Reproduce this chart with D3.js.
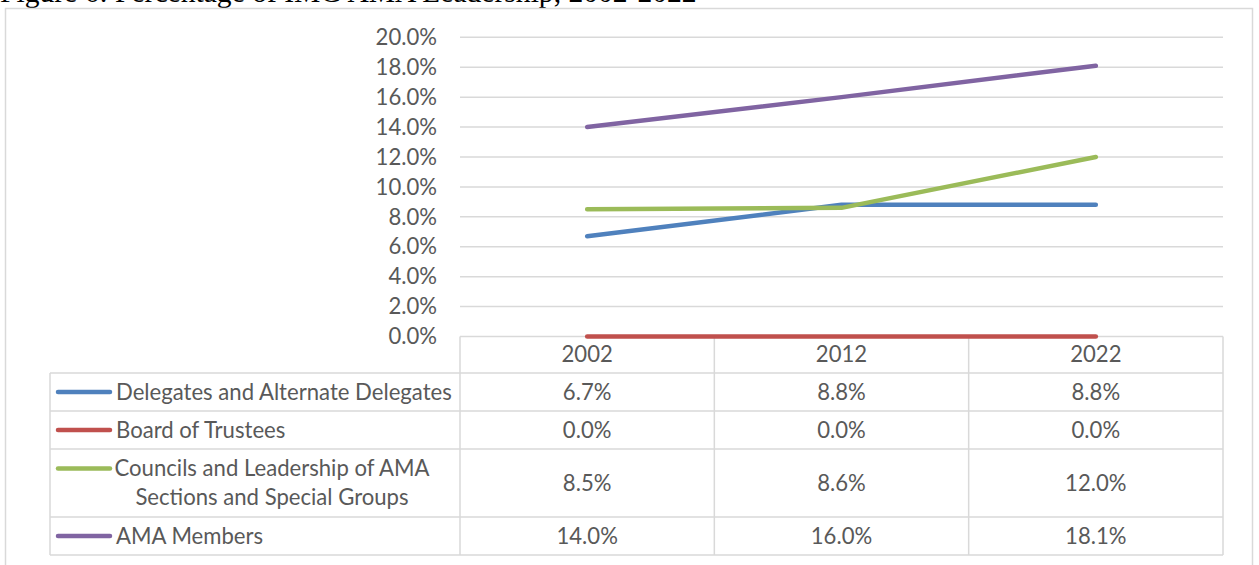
<!DOCTYPE html>
<html>
<head>
<meta charset="utf-8">
<script src="https://cdn.jsdelivr.net/npm/d3@7"></script>
<style>
  body { margin: 0; background: #fff; }
  text { font-family: Lato, "Open Sans", sans-serif; fill: #595959; }
</style>
</head>
<body>
<div id="chart"></div>
<script>
// data
var years = ["2002", "2012", "2022"];
var seriesNames = [
  ["Delegates and Alternate Delegates"],
  ["Board of Trustees"],
  ["Councils and Leadership of AMA", "Sections and Special Groups"],
  ["AMA Members"]
];
var seriesColors = ["#4f81bd", "#c0504d", "#9bbb59", "#8064a2"];
var delegates = [6.7, 8.8, 8.8];
var trustees = [0.0, 0.0, 0.0];
var councils = [8.5, 8.6, 12.0];
var members = [14.0, 16.0, 18.1];
var yTicks = [0, 2, 4, 6, 8, 10, 12, 14, 16, 18, 20];

var allSeries = [delegates, trustees, councils, members];

var W = 1259, H = 565;
var grid = "#d9d9d9";

var svg = d3.select("#chart").append("svg")
  .attr("width", W).attr("height", H);

// title, cut off at the top like the scan
var title = svg.append("text")
  .attr("x", 0).attr("y", 2)
  .style("font-family", "'Liberation Serif', 'Times New Roman', serif")
  .style("font-size", "20px")
  .style("fill", "#000")
  .text("Figure 6: Percentage of IMG AMA Leadership, 2002-2022");
var tl = title.node().getComputedTextLength();
title.style("font-size", (20 * 697 / tl) + "px");

// pick a label size so the widest legend entry fills its cell like the original
var probe = svg.append("text").style("font-size", "20px").text(seriesNames[0][0]);
var fs = 20 * 336 / probe.node().getComputedTextLength();
probe.remove();

// outer frame
svg.append("rect")
  .attr("x", 5.5).attr("y", 8.5)
  .attr("width", 1247).attr("height", 600)
  .attr("fill", "none").attr("stroke", grid).attr("stroke-width", 1.5);

// scales
var x = d3.scaleBand().domain(years).range([460, 1223]);
var y = d3.scaleLinear().domain([0, 20]).range([336.5, 37.3]);
var cx = function(d) { return x(d) + x.bandwidth() / 2; };

// gridlines
svg.append("g").selectAll("line")
  .data(yTicks.slice(1))
  .enter().append("line")
  .attr("x1", 460).attr("x2", 1223)
  .attr("y1", function(d) { return y(d); })
  .attr("y2", function(d) { return y(d); })
  .attr("stroke", grid).attr("stroke-width", 1.5);

// y labels
svg.append("g").selectAll("text")
  .data(yTicks)
  .enter().append("text")
  .attr("x", 437)
  .attr("y", function(d) { return y(d); })
  .attr("dy", "0.35em")
  .attr("text-anchor", "end")
  .style("font-size", fs + "px")
  .text(function(d) { return d3.format(".1f")(d) + "%"; });

// data table rows (top edges)
var rowTop = [373, 411, 449, 517, 555];
var tbl = svg.append("g");

tbl.append("line")
  .attr("x1", 460).attr("x2", 1223).attr("y1", 336.5).attr("y2", 336.5)
  .attr("stroke", grid).attr("stroke-width", 1.5);
tbl.selectAll("line.row")
  .data(rowTop)
  .enter().append("line")
  .attr("class", "row")
  .attr("x1", 50).attr("x2", 1223)
  .attr("y1", function(d) { return d; })
  .attr("y2", function(d) { return d; })
  .attr("stroke", grid).attr("stroke-width", 1.5);
tbl.selectAll("line.col")
  .data(years.concat(["end"]))
  .enter().append("line")
  .attr("class", "col")
  .attr("x1", function(d, i) { return i < 3 ? x(d) : 1223; })
  .attr("x2", function(d, i) { return i < 3 ? x(d) : 1223; })
  .attr("y1", 336.5).attr("y2", 555)
  .attr("stroke", grid).attr("stroke-width", 1.5);
tbl.append("line")
  .attr("x1", 50).attr("x2", 50).attr("y1", 373).attr("y2", 555)
  .attr("stroke", grid).attr("stroke-width", 1.5);

// header years
tbl.selectAll("text.year")
  .data(years)
  .enter().append("text")
  .attr("class", "year")
  .attr("x", cx).attr("y", 354.5).attr("dy", "0.35em")
  .attr("text-anchor", "middle")
  .style("font-size", fs + "px")
  .text(function(d) { return d; });

// rows: legend + values
allSeries.forEach(function(vals, i) {
  var top = rowTop[i], bot = rowTop[i + 1];
  var mid = (top + bot) / 2;
  var names = seriesNames[i];
  var firstY = names.length > 1 ? mid - 14.5 : mid;

  tbl.append("line")
    .attr("x1", 58).attr("x2", 110)
    .attr("y1", firstY).attr("y2", firstY)
    .attr("stroke", seriesColors[i]).attr("stroke-width", 4.5)
    .attr("stroke-linecap", "round");

  if (names.length > 1) {
    names.forEach(function(n, k) {
      tbl.append("text")
        .attr("x", 272).attr("y", firstY + k * 29).attr("dy", "0.35em")
        .attr("text-anchor", "middle")
        .style("font-size", fs + "px")
        .text(n);
    });
  } else {
    tbl.append("text")
      .attr("x", 116).attr("y", firstY).attr("dy", "0.35em")
      .style("font-size", fs + "px")
      .text(names[0]);
  }

  tbl.selectAll("text.v" + i)
    .data(vals)
    .enter().append("text")
    .attr("class", "v" + i)
    .attr("x", function(d, j) { return cx(years[j]); })
    .attr("y", mid).attr("dy", "0.35em")
    .attr("text-anchor", "middle")
    .style("font-size", fs + "px")
    .text(function(d) { return d3.format(".1f")(d) + "%"; });
});

// series lines
var line = d3.line()
  .x(function(d, j) { return cx(years[j]); })
  .y(function(d) { return y(d); });

svg.append("g").selectAll("path")
  .data(allSeries)
  .enter().append("path")
  .attr("d", line)
  .attr("fill", "none")
  .attr("stroke", function(d, i) { return seriesColors[i]; })
  .attr("stroke-width", 4.5)
  .attr("stroke-linecap", "round")
  .attr("stroke-linejoin", "round");
</script>
</body>
</html>
